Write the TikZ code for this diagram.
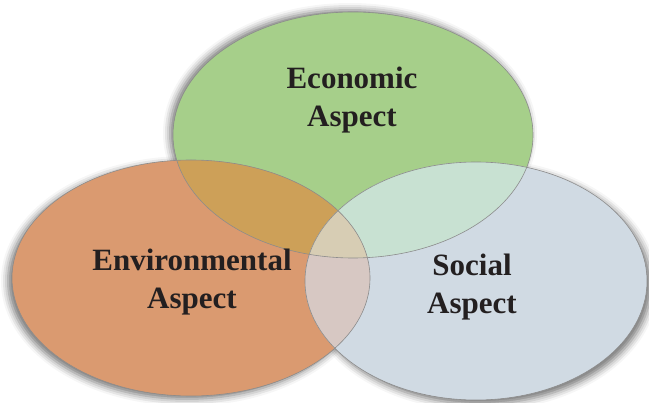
\documentclass[tikz,border=0pt]{standalone}
\usepackage{fontspec}
\setmainfont{Liberation Serif}
\usepackage{tikz}
\usetikzlibrary{shadows.blur}
\definecolor{ecogreen}{RGB}{166,207,138}
\definecolor{envorange}{RGB}{218,154,112}
\definecolor{socblue}{RGB}{208,218,227}
\definecolor{ecoenv}{RGB}{205,160,88}
\definecolor{ecosoc}{RGB}{200,225,210}
\definecolor{envsoc}{RGB}{215,200,195}
\definecolor{allthree}{RGB}{215,205,180}
\definecolor{rimgray}{RGB}{140,140,140}
\definecolor{inkblack}{RGB}{35,31,32}

\begin{document}
\begin{tikzpicture}[x=1pt,y=-1pt,
  rim/.style={draw=rimgray,line width=0.6pt},
  halo/.style 2 args={blur shadow={shadow xshift=#1,shadow yshift=#2,shadow blur radius=7pt,shadow opacity=55}},
  aspecttext/.style={font=\fontsize{31}{38}\selectfont\bfseries,align=center,text=inkblack,inner sep=0pt}]
\useasboundingbox (0,0) rectangle (649,403);
% shadows
\path[halo={-3pt}{2pt}] (353,135) ellipse (180 and 123);
\path[halo={-4pt}{-3pt}] (191,278) ellipse (179 and 118);
\path[halo={4pt}{-4pt}] (476,281) ellipse (171 and 119);
% ellipses
\fill[ecogreen] (353,135) ellipse (180 and 123);
\fill[envorange] (191,278) ellipse (179 and 118);
\fill[socblue] (476,281) ellipse (171 and 119);
% overlaps
\begin{scope}
\clip (353,135) ellipse (180 and 123);
\fill[ecoenv] (191,278) ellipse (179 and 118);
\fill[ecosoc] (476,281) ellipse (171 and 119);
\end{scope}
\begin{scope}
\clip (191,278) ellipse (179 and 118);
\fill[envsoc] (476,281) ellipse (171 and 119);
\clip (353,135) ellipse (180 and 123);
\fill[allthree] (476,281) ellipse (171 and 119);
\end{scope}
% rims
\draw[rim] (353,135) ellipse (180 and 123);
\draw[rim] (191,278) ellipse (179 and 118);
\draw[rim] (476,281) ellipse (171 and 119);
% labels
\node[aspecttext] (eco) at (352,100) {Economic\\Aspect};
\node[aspecttext] (env) at (192,282) {Environmental\\Aspect};
\node[aspecttext] (soc) at (472,287) {Social\\Aspect};
\end{tikzpicture}
\end{document}
